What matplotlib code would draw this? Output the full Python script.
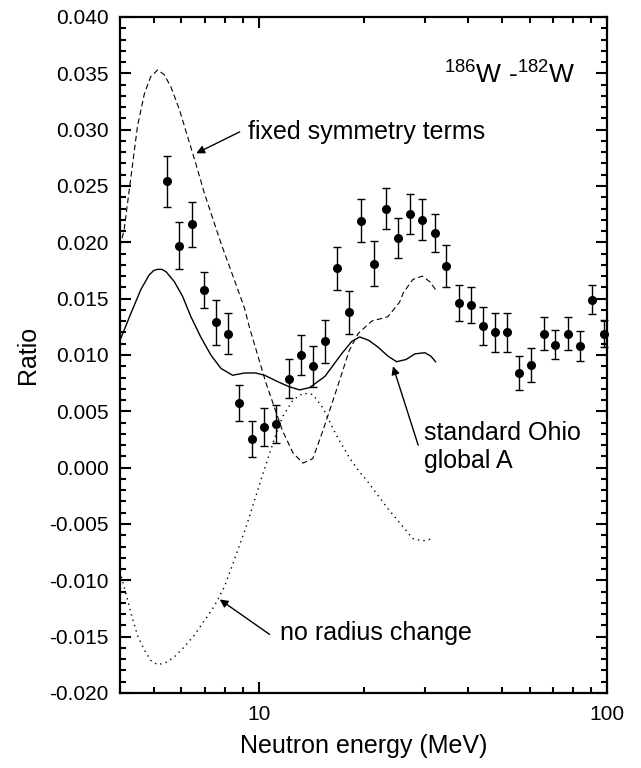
import numpy as np
import matplotlib
matplotlib.use('Agg')
import matplotlib.pyplot as plt
from matplotlib.ticker import MultipleLocator, FixedLocator, NullFormatter

plt.rcParams['font.family'] = ['Liberation Sans', 'DejaVu Sans']
plt.rcParams['mathtext.fontset'] = 'custom'
plt.rcParams['mathtext.rm'] = 'Liberation Sans'

# measured ratio with errors
energy = [5.47, 5.91, 6.42, 6.95, 7.52, 8.16, 8.81, 9.59, 10.36, 11.2, 12.2,
          13.2, 14.3, 15.5, 16.8, 18.2, 19.7, 21.4, 23.2, 25.1, 27.2, 29.5,
          32.0, 34.6, 37.5, 40.6, 44.1, 47.7, 51.7, 56.0, 60.6, 65.9, 71.0,
          77.3, 83.6, 90.8, 98.0]
ratio = [0.0254, 0.0197, 0.0216, 0.0158, 0.0129, 0.0119, 0.0057, 0.0025,
         0.0036, 0.0039, 0.0079, 0.0100, 0.0090, 0.0112, 0.0177, 0.0138,
         0.0219, 0.0181, 0.0230, 0.0204, 0.0225, 0.0220, 0.0208, 0.0179,
         0.0146, 0.0144, 0.0126, 0.0120, 0.0120, 0.0084, 0.0091, 0.0119,
         0.0109, 0.0119, 0.0108, 0.0149, 0.0119]
ratio_err = [0.0023, 0.0021, 0.0020, 0.0016, 0.0020, 0.0018, 0.0016, 0.0016,
             0.0017, 0.0017, 0.0017, 0.0018, 0.0018, 0.0019, 0.0019, 0.0019,
             0.0019, 0.0020, 0.0018, 0.0018, 0.0018, 0.0018, 0.0017, 0.0019,
             0.0016, 0.0016, 0.0017, 0.0017, 0.0017, 0.0015, 0.0015, 0.0015,
             0.0013, 0.0015, 0.0013, 0.0013, 0.0012]

# standard Ohio global A (solid)
std_e = [4.0, 4.3, 4.59, 4.85, 5.0, 5.13, 5.27, 5.42, 5.73, 6.05, 6.39, 6.82,
         7.29, 7.8, 8.42, 9.1, 9.82, 10.4, 11.4, 12.2, 13.1, 14.0, 15.5,
         17.3, 18.5, 19.5, 20.7, 22.0, 23.5, 24.9, 26.5, 28.1, 30.0, 31.2,
         32.2]
std_r = [0.0113, 0.0137, 0.0158, 0.0171, 0.0175, 0.0176, 0.0176, 0.0174,
         0.0165, 0.0152, 0.0134, 0.0116, 0.0100, 0.0088, 0.0082, 0.0084,
         0.0084, 0.0082, 0.0076, 0.0072, 0.0069, 0.0071, 0.0081, 0.0101,
         0.0112, 0.0116, 0.0113, 0.0107, 0.0099, 0.0094, 0.0096, 0.0101,
         0.0102, 0.0099, 0.0094]

# fixed symmetry terms (dashed)
fix_e = [4.0, 4.11, 4.3, 4.49, 4.7, 4.9, 5.13, 5.35, 5.6, 5.92, 6.25, 6.6,
         6.98, 7.46, 7.8, 8.44, 9.12, 9.42, 10.5, 11.7, 12.55, 13.4, 14.3,
         15.1, 16.0, 17.1, 18.2, 19.3, 21.1, 23.5, 25.4, 26.0, 27.7, 29.5,
         31.0, 32.2]
fix_r = [0.0196, 0.0211, 0.0258, 0.0303, 0.0332, 0.0347, 0.0353, 0.0349,
         0.0338, 0.0318, 0.0294, 0.0270, 0.0244, 0.0217, 0.0199, 0.0170,
         0.0141, 0.0124, 0.0075, 0.0033, 0.0013, 0.0004, 0.0008, 0.0028,
         0.0051, 0.0078, 0.0104, 0.0119, 0.0130, 0.0134, 0.0147, 0.0155,
         0.0167, 0.0170, 0.0165, 0.0158]

# no radius change (dotted)
rad_e = [4.0, 4.16, 4.3, 4.49, 4.7, 4.9, 5.13, 5.42, 5.73, 6.12, 6.53, 6.98,
         7.46, 7.97, 8.42, 9.22, 10.2, 11.0, 11.7, 12.55, 13.4, 14.3, 15.3,
         16.7, 17.5, 18.2, 19.5, 20.4, 23.3, 25.4, 27.7, 29.6, 31.6]
rad_r = [-0.0092, -0.0112, -0.0129, -0.0149, -0.0162, -0.0171, -0.0175,
         -0.0173, -0.0168, -0.0159, -0.0149, -0.0136, -0.0123, -0.0106,
         -0.0086, -0.0052, -0.0009, 0.0022, 0.0045, 0.0060, 0.0066, 0.0065,
         0.0053, 0.0029, 0.0018, 0.0009, -0.0004, -0.0011, -0.0035, -0.0049,
         -0.0063, -0.0065, -0.0063]

fig = plt.figure(figsize=(6.41, 7.68), dpi=100)
ax = fig.add_axes([0.1872, 0.0977, 0.7598, 0.8802])

ax.plot(std_e, std_r, color='k', lw=1.0)
ax.plot(fix_e, fix_r, color='k', lw=0.8, linestyle=(0, (5, 3)))
ax.plot(rad_e, rad_r, color='k', lw=1.0, linestyle=(0, (1, 3)))
ax.errorbar(energy, ratio, yerr=ratio_err, fmt='o', color='k', ms=5.5,
            elinewidth=1.0, capsize=3, capthick=1.0, clip_on=False, zorder=3)

ax.set_xscale('log')
ax.set_xlim(4, 100)
ax.set_ylim(-0.020, 0.040)
ax.xaxis.set_major_locator(FixedLocator([10, 100]))
ax.xaxis.set_minor_locator(FixedLocator([5, 6, 7, 8, 9, 20, 30, 40, 50, 60, 70, 80, 90]))
ax.xaxis.set_minor_formatter(NullFormatter())
ax.set_xticklabels(['10', '100'])
ax.yaxis.set_major_locator(MultipleLocator(0.005))
ax.yaxis.set_minor_locator(MultipleLocator(0.001))
ax.yaxis.set_major_formatter(plt.FuncFormatter(lambda v, p: '%.3f' % v))

ax.tick_params(which='both', direction='in', top=True, right=True, labelsize=15)
ax.tick_params(which='major', length=8, width=1.5)
ax.tick_params(which='minor', length=4.5, width=1.5)
ax.tick_params(axis='x', pad=9)
ax.tick_params(axis='y', pad=8)
for s in ax.spines.values():
    s.set_linewidth(1.6)

ax.set_xlabel('Neutron energy (MeV)', fontsize=18, labelpad=7)
ax.set_ylabel('Ratio', fontsize=18, labelpad=7)

ax.text(34.0, 0.0342, r'$^{186}$W -$^{182}$W', fontsize=19, va='baseline', ha='left')

arr = dict(arrowstyle='-|>', color='k', lw=1.0, mutation_scale=12,
           shrinkA=0, shrinkB=0)
ax.text(9.3, 0.0298, 'fixed symmetry terms', fontsize=18, va='center', ha='left')
ax.annotate('', xy=(6.62, 0.0279), xytext=(8.82, 0.0298), arrowprops=arr)

ax.text(29.8, 0.00184, 'standard Ohio\nglobal A', fontsize=18, va='center',
        ha='left', linespacing=1.25)
ax.annotate('', xy=(24.3, 0.0090), xytext=(28.7, 0.0020), arrowprops=arr)

ax.text(11.49, -0.0147, 'no radius change', fontsize=18, va='center', ha='left')
ax.annotate('', xy=(7.73, -0.0117), xytext=(10.75, -0.0148), arrowprops=arr)

fig.savefig('out.png', dpi=100)
